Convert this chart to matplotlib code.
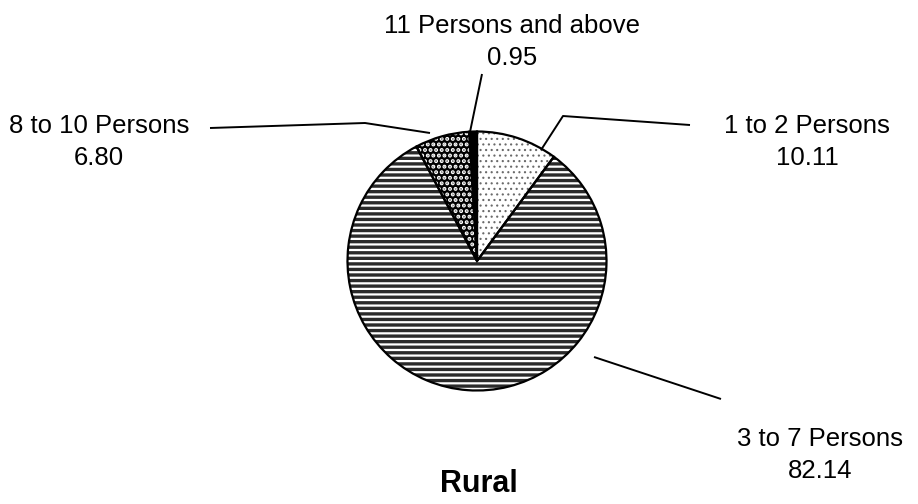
import matplotlib
matplotlib.use("Agg")
import matplotlib.pyplot as plt
from matplotlib.patches import Wedge

# ---------------------------------------------------------
# DATA
# ---------------------------------------------------------
CATEGORIES = ["1 to 2 Persons", "3 to 7 Persons", "8 to 10 Persons", "11 Persons and above"]
SHARES = [10.11, 82.14, 6.80, 0.95]
TITLE = "Rural"

# fill style per slice: (facecolor, hatch, hatch colour, hatch linewidth)
SLICE_STYLES = [
    ("white", "...", "#6a6a6a", 0.8),
    ("white", "---", "#2a2a2a", 2.4),
    ("black", "...", "white", 2.0),
    ("black", None, "black", 1.0),
]

# ---------------------------------------------------------
# LAYOUT (pixel coords, y measured from the top)
# ---------------------------------------------------------
W, H = 918, 504
CENTER = (477, 261)
RADIUS = 129.5

LABEL_POS = [(807, 142), (820, 455), (99, 142), (512, 42)]
LEADERS = [
    [(541, 150), (563, 116), (690, 125)],
    [(594, 357), (721, 399)],
    [(430, 133), (365, 123), (210, 128)],
    [(470, 132), (482, 74)],
]
TITLE_POS = (479, 484)

FONT = ["Liberation Sans", "DejaVu Sans"]


def fy(y):
    return H - y


fig = plt.figure(figsize=(W / 100, H / 100), dpi=100)
ax = fig.add_axes([0, 0, 1, 1])

wedges, _ = ax.pie(
    SHARES,
    startangle=90,
    counterclock=False,
    center=(CENTER[0], fy(CENTER[1])),
    radius=RADIUS,
    wedgeprops=dict(facecolor="none", edgecolor="black", linewidth=1.6, zorder=3),
)

# hatched fills underneath the outlines
for w, (fc, hatch, hc, hlw) in zip(wedges, SLICE_STYLES):
    plt.rcParams["hatch.linewidth"] = hlw
    fill = Wedge(w.center, w.r, w.theta1, w.theta2, facecolor=fc,
                 edgecolor=hc, hatch=hatch, linewidth=0, zorder=2)
    if hasattr(fill, "set_hatch_linewidth"):
        fill.set_hatch_linewidth(hlw)
    ax.add_patch(fill)

# leader lines + labels
for cat, val, pos, path in zip(CATEGORIES, SHARES, LABEL_POS, LEADERS):
    xs = [p[0] for p in path]
    ys = [fy(p[1]) for p in path]
    ax.plot(xs, ys, color="black", linewidth=1.4, solid_capstyle="butt", zorder=4)
    ax.text(pos[0], fy(pos[1]), f"{cat}\n{val:.2f}", ha="center", va="center",
            multialignment="center", fontsize=18.5, family=FONT, linespacing=1.38)

ax.text(TITLE_POS[0], fy(TITLE_POS[1]), TITLE, ha="center", va="center",
        fontsize=22, fontweight="bold", family=FONT)

ax.set_xlim(0, W)
ax.set_ylim(0, H)
ax.set_aspect("equal")
ax.axis("off")

fig.savefig("out.png", dpi=100, facecolor="white")
